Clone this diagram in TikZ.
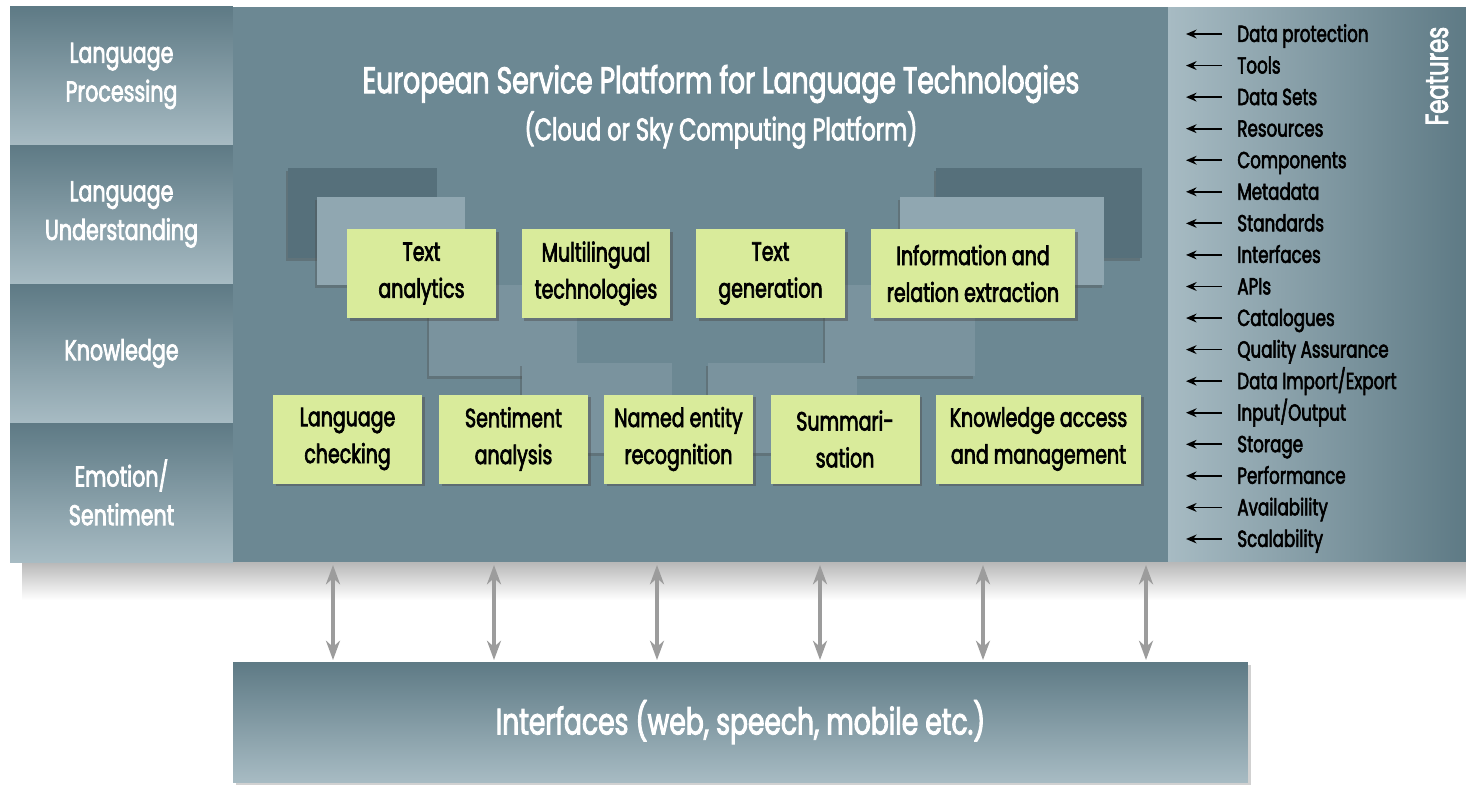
\documentclass[tikz,border=0pt]{standalone}
\usepackage{fontspec}
\setmainfont{Poppins}[FakeStretch=0.72, FakeBold=2.5]
\usetikzlibrary{arrows.meta,shadows}
\definecolor{platform}{HTML}{6C8893}
\definecolor{celltop}{HTML}{5E7A85}
\definecolor{cellbot}{HTML}{A7BBC3}
\definecolor{rectdark}{HTML}{56707B}
\definecolor{rectlight}{HTML}{90A7B1}
\definecolor{rectmid}{HTML}{7A939E}
\definecolor{svcgreen}{HTML}{D9EB9B}
\definecolor{linkgray}{HTML}{9C9C9C}

\begin{document}
\begin{tikzpicture}[x=0.02cm,y=-0.02cm,
    cell/.style={minimum width=4.46cm, minimum height=2.78cm, inner sep=0pt,
      top color=celltop, bottom color=cellbot, text=white, align=center,
      font=\fontsize{16.3}{22}\selectfont},
    service/.style={fill=svcgreen, minimum width=2.98cm, minimum height=1.78cm,
      inner sep=0pt, align=center, font=\fontsize{15}{21}\selectfont,
      drop shadow={shadow xshift=1.6pt, shadow yshift=-1.6pt, opacity=0.45, fill=black!70}},
    backrect/.style={drop shadow={shadow xshift=-1pt, shadow yshift=-1.6pt, opacity=0.35, fill=black!70}},
    feature/.style={anchor=west, inner xsep=0.3cm, inner ysep=0pt, text height=12pt, text depth=3pt,
      font=\fontsize{13.2}{15}\selectfont},
    featarrow/.style={-{Stealth[length=6pt,width=5pt]}, line width=1pt},
    link/.style={{Stealth[length=11pt,width=8pt]}-{Stealth[length=11pt,width=8pt]}, linkgray, line width=1.8pt}]
  \useasboundingbox (0,0) rectangle (1466,789);

  % shadow below the platform band
  \shade[top color=black!28, bottom color=white] (22,562) rectangle (1466,600);

  % left column
  \node[cell] (lp) at (121.5,76) {Language\\Processing};
  \node[cell] (lu) at (121.5,214.5) {Language\\Understanding};
  \node[cell] (kn) at (121.5,353.5) {Knowledge};
  \node[cell] (es) at (121.5,492.5) {Emotion/\\Sentiment};

  % platform and features column
  \node[fill=platform, minimum width=18.7cm, minimum height=11.1cm, inner sep=0pt] (platform) at (700.5,284.5) {};
  \node[minimum width=5.96cm, minimum height=11.1cm, inner sep=0pt,
    left color=cellbot, right color=celltop] (features) at (1317,284.5) {};
  \node[text=white, rotate=90, font=\fontsize{18}{20}\selectfont] (feattitle) at (1437,76) {Features};

  \node[text=white, font=\fontsize{21}{24}\selectfont] (title) at (721,84) {European Service Platform for Language Technologies};
  \node[text=white, font=\fontsize{17.7}{20}\selectfont] (subtitle) at (721,130) {(Cloud or Sky Computing Platform)};

  % stacked sheets behind the services
  \fill[rectdark, backrect] (288,168) rectangle (437,258);
  \fill[rectlight, backrect] (317,197) rectangle (465,285);
  \fill[rectdark, backrect] (936,168) rectangle (1142,258);
  \fill[rectlight, backrect] (900,197) rectangle (1104,285);
  \fill[rectmid, backrect] (429,285) rectangle (577,376);
  \fill[rectmid, backrect] (825,285) rectangle (975,376);
  \fill[rectmid, backrect] (522,363) rectangle (672,453);
  \fill[rectmid, backrect] (708,363) rectangle (857,453);

  % services
  \node[service] (ta) at (421.5,273.5) {Text\\analytics};
  \node[service] (mt) at (596,273.5) {Multilingual\\technologies};
  \node[service] (tg) at (770.5,273.5) {Text\\generation};
  \node[service, minimum width=4.08cm] (ire) at (973,273.5) {Information and\\relation extraction};
  \node[service] (lc) at (347.5,439) {Language\\checking};
  \node[service] (sa) at (513.5,439) {Sentiment\\analysis};
  \node[service] (ner) at (678.5,439) {Named entity\\recognition};
  \node[service] (sum) at (845,439) {Summari-\\sation};
  \node[service, minimum width=4.1cm] (kam) at (1038.5,439) {Knowledge access\\and management};

  % feature list
  \foreach \name [count=\i] in {Data protection, Tools, Data Sets, Resources, Components,
      Metadata, Standards, Interfaces, APIs, Catalogues, Quality Assurance,
      Data Import/Export, Input/Output, Storage, Performance, Availability, Scalability} {
    \node[feature] (f\i) at (1222,{34+(\i-1)*31.56}) {\name};
    \coordinate (ft\i) at (1186,{34+(\i-1)*31.56});
    \draw[featarrow] (f\i.west) -- (ft\i);
  }

  % interfaces
  \node[minimum width=20.3cm, minimum height=2.4cm, inner sep=0pt,
    top color=celltop, bottom color=cellbot, text=white, font=\fontsize{21}{24}\selectfont,
    drop shadow={shadow xshift=1.5pt, shadow yshift=-1.5pt, opacity=0.3, fill=black!60}] (iface) at (740.5,722) {Interfaces (web, speech, mobile etc.)};

  \foreach \x [count=\i] in {333,494,657,820,983,1146} {
    \coordinate (up\i) at (\x,565);
    \coordinate (dn\i) at (\x,660);
    \draw[link] (up\i) -- (dn\i);
  }
\end{tikzpicture}
\end{document}
